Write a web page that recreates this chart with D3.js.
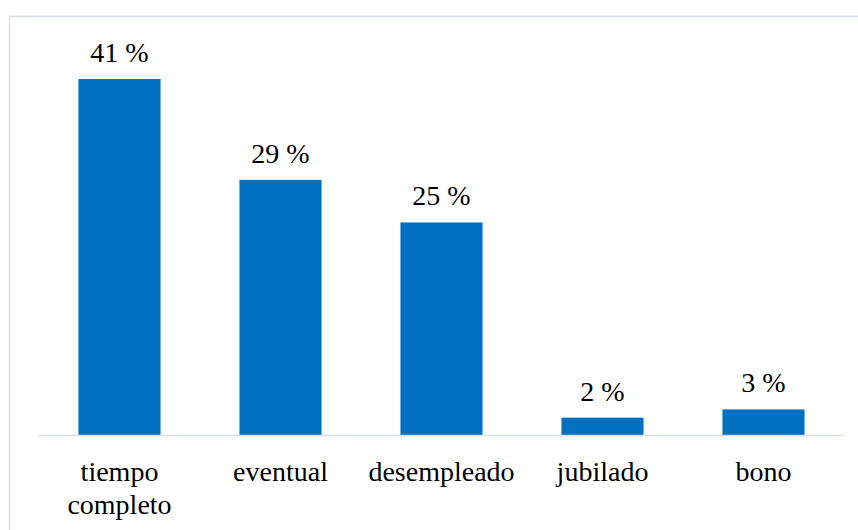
<!DOCTYPE html>
<html><head><meta charset="utf-8">
<script src="https://cdn.jsdelivr.net/npm/d3@7"></script>
</head><body style="margin:0;background:#fff">
<script>
const categories = [["tiempo","completo"],["eventual"],["desempleado"],["jubilado"],["bono"]];
const values = [41.0, 29.4, 24.5, 2.05, 3.0];
const valueLabels = ["41 %","29 %","25 %","2 %","3 %"];

const W = 858, H = 530;
const svg = d3.select("body").append("svg").attr("width", W).attr("height", H);
svg.append("rect").attr("x", 9.5).attr("y", 16.5).attr("width", W + 20).attr("height", H + 20)
  .attr("fill", "#fff").attr("stroke", "#d9dee8").attr("stroke-width", 1.5);

const x = d3.scaleBand().domain(d3.range(categories.length)).range([39, 844])
  .paddingInner(0.49).paddingOuter(0.245);
const y = d3.scaleLinear().domain([0, 41]).range([435.5, 79]);

svg.selectAll("rect.bar").data(values).join("rect").attr("class","bar")
  .attr("x", (d,i) => x(i)).attr("width", x.bandwidth())
  .attr("y", d => y(d)).attr("height", d => y(0) - y(d)).attr("fill", "#0070C0");

svg.append("line").attr("x1", 39).attr("x2", 844).attr("y1", 435.5).attr("y2", 435.5)
  .attr("stroke", "#d9dee8").attr("stroke-width", 1.5);

svg.selectAll("text.val").data(values).join("text").attr("class","val")
  .attr("font-size", 28).attr("font-family", "Times New Roman")
  .attr("x", (d,i) => x(i) + x.bandwidth()/2).attr("y", d => y(d) - 17)
  .attr("text-anchor","middle")
  .text((d,i) => valueLabels[i]);

categories.forEach((lines, i) => {
  lines.forEach((line, j) => {
    svg.append("text").attr("class","cat")
      .attr("font-size", 28).attr("font-family", "Times New Roman")
      .attr("x", x(i) + x.bandwidth()/2).attr("y", 481 + j*33)
      .attr("text-anchor","middle")
      .text(line);
  });
});
</script>
</body></html>
